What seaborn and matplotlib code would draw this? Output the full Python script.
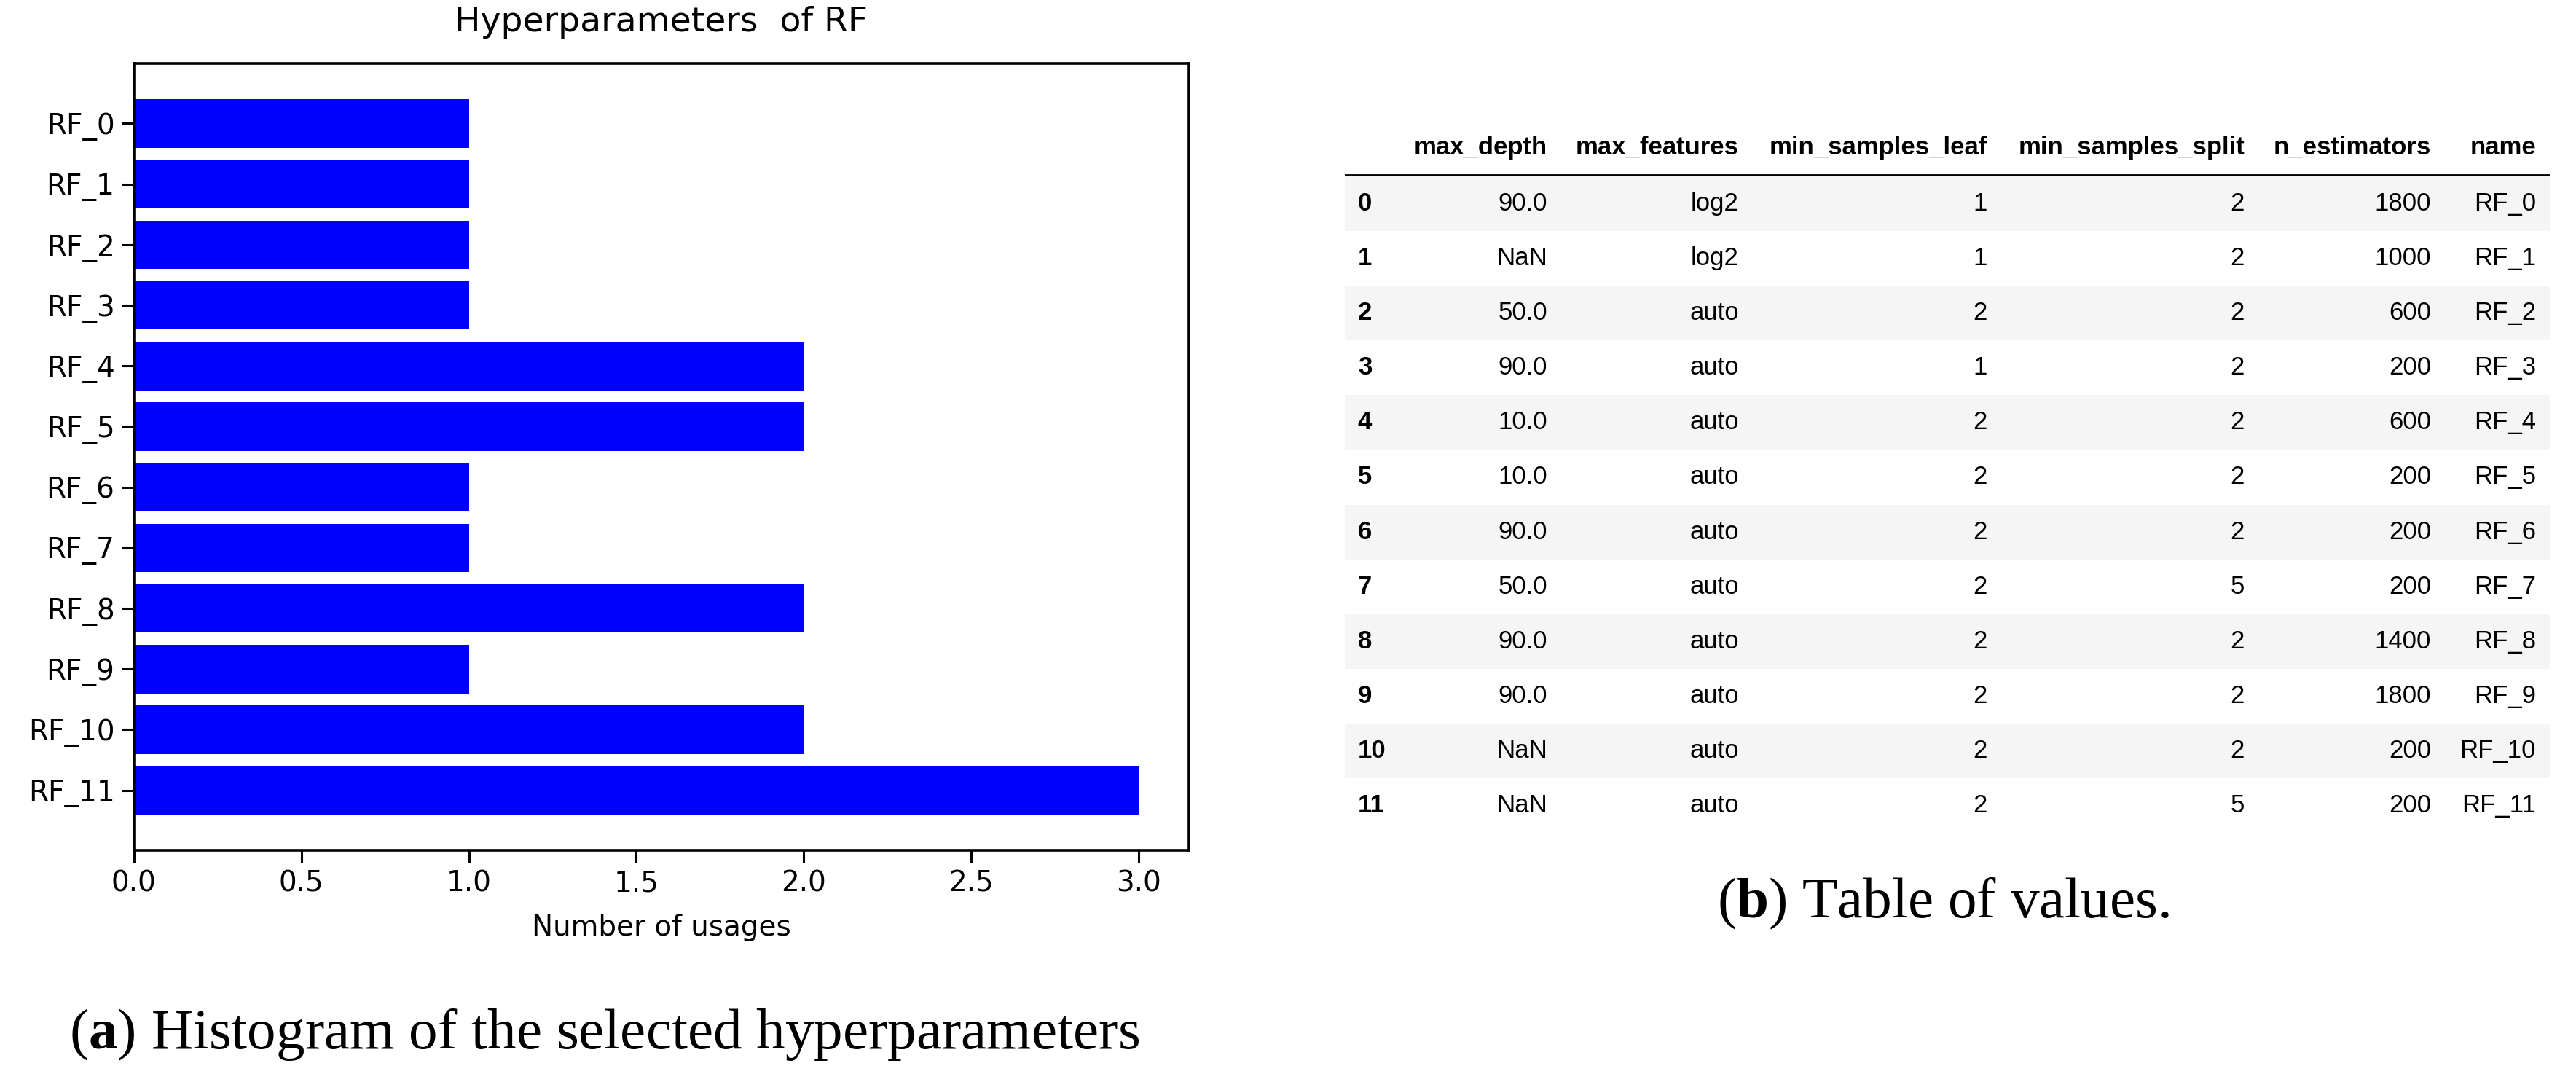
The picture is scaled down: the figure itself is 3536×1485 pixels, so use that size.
import matplotlib
matplotlib.use('Agg')
import matplotlib.pyplot as plt
import seaborn as sns
import numpy as np
import pandas as pd

matplotlib.rcParams["mathtext.fontset"] = "custom"
matplotlib.rcParams["mathtext.rm"] = "Liberation Serif"
matplotlib.rcParams["mathtext.bf"] = "Liberation Serif:bold"

# data
names = ["RF_0", "RF_1", "RF_2", "RF_3", "RF_4", "RF_5",
         "RF_6", "RF_7", "RF_8", "RF_9", "RF_10", "RF_11"]
usages = [1, 1, 1, 1, 2, 2, 1, 1, 2, 1, 2, 3]

max_depth = [90.0, np.nan, 50.0, 90.0, 10.0, 10.0, 90.0, 50.0, 90.0, 90.0, np.nan, np.nan]
max_features = ["log2", "log2", "auto", "auto", "auto", "auto",
                "auto", "auto", "auto", "auto", "auto", "auto"]
min_samples_leaf = [1, 1, 2, 1, 2, 2, 2, 2, 2, 2, 2, 2]
min_samples_split = [2, 2, 2, 2, 2, 2, 2, 5, 2, 2, 2, 5]
n_estimators = [1800, 1000, 600, 200, 600, 200, 200, 200, 1400, 1800, 200, 200]

table = pd.DataFrame({
    "max_depth": max_depth,
    "max_features": max_features,
    "min_samples_leaf": min_samples_leaf,
    "min_samples_split": min_samples_split,
    "n_estimators": n_estimators,
    "name": names,
})

fig = plt.figure(figsize=(17.68, 7.425), dpi=200)

# left: bar chart
ax = fig.add_axes([0.052, 0.2141, 0.4095, 0.7273])
sns.barplot(x=usages, y=names, orient="h", color="#0000ff", saturation=1,
            width=0.8, linewidth=0, ax=ax)
ax.set_xlim(0, 3.15)
ax.set_ylim(len(names) - 1 + 0.99, -0.99)
ax.set_xticks(np.arange(0, 3.01, 0.5))
ax.tick_params(labelsize=14, length=6, width=1.1)
for s in ax.spines.values():
    s.set_linewidth(1.3)
    s.set_visible(True)
ax.set_title("Hyperparameters  of RF", fontsize=17, pad=16)
ax.set_xlabel("Number of usages", fontsize=14, labelpad=8)
ax.set_ylabel("")

# right: table of values
tx = fig.add_axes([0.522, 0.2306, 0.4678, 0.6617])
tx.set_xlim(0, 1654)
tx.set_ylim(11.5, -1.6)
tx.axis("off")
for i in range(len(table)):
    if i % 2 == 0:
        tx.axhspan(i - 0.5, i + 0.5, color="#f5f5f5", lw=0, zorder=0)
tx.axhline(-0.53, color="black", lw=1.0)

col_right = [278, 541, 882, 1235, 1491, 1635]
tfont = ["Liberation Sans", "DejaVu Sans"]
fs = 12.5
for col, xr in zip(table.columns, col_right):
    tx.text(xr, -1.03, col, ha="right", va="center", fontsize=fs,
            fontweight="bold", family=tfont)
for i, row in table.iterrows():
    tx.text(18, i, str(i), ha="left", va="center", fontsize=fs,
            fontweight="bold", family=tfont)
    cells = ["NaN" if pd.isna(row["max_depth"]) else f"{row['max_depth']:.1f}",
             row["max_features"], str(row["min_samples_leaf"]),
             str(row["min_samples_split"]), str(row["n_estimators"]), row["name"]]
    for val, xr in zip(cells, col_right):
        tx.text(xr, i, val, ha="right", va="center", fontsize=fs, family=tfont)

# captions
fig.text(830 / 3536, 1 - 1420 / 1485,
         r"($\mathbf{a}$) Histogram of the selected hyperparameters",
         ha="center", va="center", fontsize=28.5, family="Liberation Serif")
fig.text(2667 / 3536, 1 - 1240 / 1485, r"($\mathbf{b}$) Table of values.",
         ha="center", va="center", fontsize=28.5, family="Liberation Serif")

fig.savefig("out.png", dpi=200)
plt.close(fig)
